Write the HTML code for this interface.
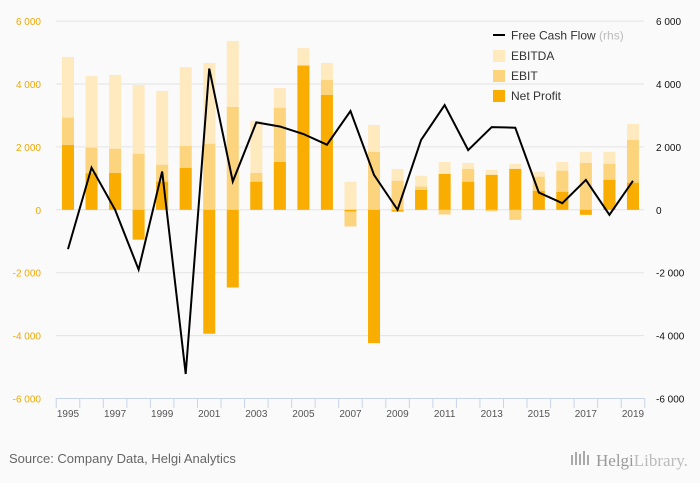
<!DOCTYPE html>
<html><head><meta charset="utf-8"><style>
body{margin:0;background:#fafafa;font-family:"Liberation Sans",sans-serif}
svg{display:block}
</style></head><body>
<svg id="c" width="700" height="483" xmlns="http://www.w3.org/2000/svg">
<rect width="700" height="483" fill="#fafafa"/>
<g id="grid"></g><g id="bars"></g><g id="line"></g><g id="axes"></g>
<g font-size="12" fill="#333">
<line x1="493" y1="35" x2="505" y2="35" stroke="#000" stroke-width="2"/>
<text x="511" y="39.5">Free Cash Flow <tspan fill="#bbb">(rhs)</tspan></text>
<rect x="493" y="50" width="12" height="12" fill="#ffeac0"/>
<text x="511" y="60">EBITDA</text>
<rect x="493" y="70" width="12" height="12" fill="#fcd47e"/>
<text x="511" y="80">EBIT</text>
<rect x="493" y="90" width="12" height="12" fill="#f9ad00"/>
<text x="511" y="100">Net Profit</text>
</g>
<text x="9" y="463" font-size="13" fill="#666">Source: Company Data, Helgi Analytics</text>
<g>
<rect x="571" y="455" width="2" height="10" fill="#aaa"/><rect x="575" y="452" width="2" height="13" fill="#aaa"/><rect x="579" y="454" width="2" height="11" fill="#aaa"/><rect x="583" y="451" width="2" height="14" fill="#aaa"/><rect x="587" y="455" width="2" height="10" fill="#aaa"/>
<text x="596" y="466" font-size="17" fill="#999" font-family="Liberation Serif,serif">Helgi<tspan fill="#bbb">Library.</tspan></text>
</g>
</svg>
<script>
const years=["1995","1996","1997","1998","1999","2000","2001","2002","2003","2004","2005","2006","2007","2008","2009","2010","2011","2012","2013","2014","2015","2016","2017","2018","2019"];
const ebitda=[4860,4250,4290,3970,3780,4540,4670,5370,2830,3870,5140,4670,890,2700,1300,1080,1520,1490,1270,1460,1210,1520,1840,1840,2730];
const ebit=[2930,1980,1940,1780,1430,2030,2100,3270,1170,3240,4600,4130,-530,1840,920,740,-150,1300,-50,-320,1050,1240,1490,1460,2220];
const netProfit=[2060,1160,1170,-950,890,1330,-3940,-2470,890,1520,4580,3650,-50,-4240,-60,630,1140,890,1110,1300,600,570,-160,950,860];
const fcf=[-1250,1340,0,-1900,1220,-5220,4490,900,2780,2650,2410,2070,3140,1110,0,2220,3330,1900,2630,2610,550,210,950,-160,920];
const ticks=[6000,4000,2000,0,-2000,-4000,-6000];
const tickLabels=["6 000","4 000","2 000","0","-2 000","-4 000","-6 000"];
const NS="http://www.w3.org/2000/svg";
const y0=209.8,ppu=31.45/1000,x0=68,step=23.54,bw=12;
const yS=v=>y0-v*ppu, xS=i=>x0+i*step;
function mk(tag,attrs,parent){const e=document.createElementNS(NS,tag);for(const k in attrs)e.setAttribute(k,attrs[k]);document.getElementById(parent).appendChild(e);return e;}
ticks.forEach((t,i)=>{
 if(t!==-6000){const g=mk('line',{x1:56,x2:644,y1:yS(t),y2:yS(t),stroke:'#e3e3e3','stroke-width':1},'grid');
 
 }
 const l=mk('text',{x:41,y:yS(t)+4,'text-anchor':'end','font-size':10,fill:'#f0a800'},'axes');l.textContent=tickLabels[i];
 
 
 const r=mk('text',{x:656,y:yS(t)+4,'font-size':10,fill:'#111'},'axes');r.textContent=tickLabels[i];
 
 
});
[[ebitda,'#ffeac0','ebitda'],[ebit,'#fcd47e','ebit'],[netProfit,'#f9ad00','net-profit']].forEach(([arr,col,nm])=>{
 arr.forEach((v,i)=>{const y=Math.min(yS(v),y0),h=Math.abs(yS(v)-y0);
 const b=mk('rect',{x:xS(i)-bw/2,y:y,width:bw,height:h,fill:col},'bars');
 
 });
});
const p=mk('polyline',{points:fcf.map((v,i)=>xS(i)+','+yS(v)).join(' '),fill:'none',stroke:'#000','stroke-width':2,'stroke-linejoin':'miter'},'line');


const ax=mk('line',{x1:56,x2:644,y1:398.5,y2:398.5,stroke:'#c8d4ea','stroke-width':1},'axes');


for(let i=0;i<=years.length;i++){const x=xS(i)-step/2;const t=mk('line',{x1:x,x2:x,y1:398,y2:408,stroke:'#c8d4ea'},'axes');
 
 }
years.forEach((yr,i)=>{if(i%2)return;const t=mk('text',{x:xS(i),y:417,'text-anchor':'middle','font-size':10,fill:'#555'},'axes');t.textContent=yr;
 
 });
</script>
</body></html>
